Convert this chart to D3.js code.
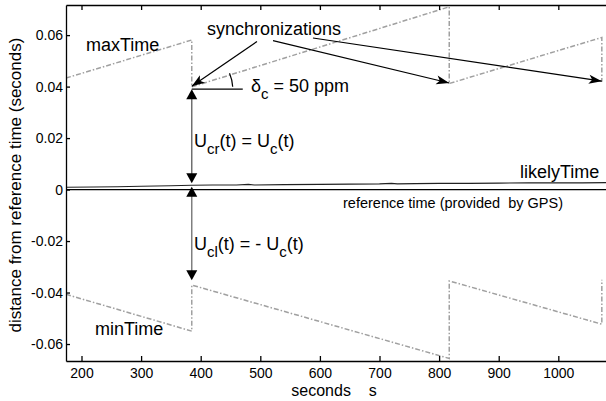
<!DOCTYPE html>
<html>
<head>
<meta charset="utf-8">
<script src="https://cdn.jsdelivr.net/npm/d3@7"></script>
<style>
body { margin: 0; background: #fff; }
text { font-family: Arial, "Liberation Sans", Helvetica, sans-serif; fill: #000; }
</style>
</head>
<body>
<div id="graph"></div>
<script>

// tick values
var xTicks = [200, 300, 400, 500, 600, 700, 800, 900, 1000];
var yTicks = [-0.06, -0.04, -0.02, 0, 0.02, 0.04, 0.06];

// synchronization instants (s)
var syncTimes = [385, 817, 1073];

// maxTime / minTime saw-tooth
var maxTimeT = [174, 385, 385, 817, 817, 1073, 1073];
var maxTimeV = [0.0433, 0.0581, 0.0399, 0.0710, 0.0412, 0.0591, 0.0419];
var minTimeT = [174, 385, 385, 817, 817, 1073, 1073];
var minTimeV = [-0.0407, -0.0550, -0.0371, -0.0656, -0.0355, -0.0523, -0.0350];

// likelyTime, slowly drifting above the reference
var likelyT = [174, 220, 260, 300, 350, 385, 420, 460, 480, 490, 540, 600, 650, 700, 720, 730, 760, 800, 850, 900, 950, 1000, 1040, 1080];
var likelyV = [0.0009, 0.0010, 0.0011, 0.0013, 0.0015, 0.0017, 0.0018, 0.0018, 0.0020, 0.0018, 0.0019, 0.0020, 0.0021, 0.0022, 0.0024, 0.0022, 0.0023, 0.0024, 0.0024, 0.0025, 0.0026, 0.0026, 0.0026, 0.0027];

// reference time (GPS)
var refT = [174, 1080];
var refV = [0, 0];

// annotation arrows (values on the y axis)
var ucrTop = 0.0390, ucrBottom = 0.0025;
var uclTop = 0.0011, uclBottom = -0.0352;

function drawGraph(){

    var W = 606, H = 401;
    var left = 66, right = 606, top = 5, bottom = 361;

    var xScale = d3.scaleLinear()
        .domain([174, 1080])
        .range([left, right]);

    var yScale = d3.scaleLinear()
        .domain([-0.0666, 0.0717])
        .range([bottom, top]);

    var svg = d3.select("#graph").append("svg")
        .attr("width", W)
        .attr("height", H);

    svg.append("clipPath").attr("id", "plot")
        .append("rect")
        .attr("x", left).attr("y", top)
        .attr("width", right - left).attr("height", bottom - top);

    var plot = svg.append("g").attr("clip-path", "url(#plot)");

    function zip(ts, vs){
        return ts.map(function(t, i){ return {t: t, v: vs[i]}; });
    }

    var line = d3.line()
        .x(function(d){ return xScale(d.t); })
        .y(function(d){ return yScale(d.v); })
        .curve(d3.curveLinear);

    // reference time
    plot.append("path")
        .datum(zip(refT, refV))
        .attr("d", line)
        .attr("fill", "none")
        .attr("stroke", "#000")
        .attr("stroke-width", 1.3);

    // likelyTime
    plot.append("path")
        .datum(zip(likelyT, likelyV))
        .attr("d", line)
        .attr("fill", "none")
        .attr("stroke", "#222")
        .attr("stroke-width", 1.1);

    // max / min time
    [zip(maxTimeT, maxTimeV), zip(minTimeT, minTimeV)].forEach(function(data){
        plot.append("path")
            .datum(data)
            .attr("d", line)
            .attr("fill", "none")
            .attr("stroke", "#a0a0a0")
            .attr("stroke-width", 1.5)
            .attr("stroke-dasharray", "5,2,1.5,2");
    });

    // axes
    var axisFont = function(g){
        g.selectAll("text")
            .attr("font-family", "Arial, 'Liberation Sans', sans-serif")
            .attr("font-size", 14)
            .attr("fill", "#000");
        g.selectAll("line, path").attr("stroke", "#000").attr("stroke-width", 1.3);
    };

    svg.append("g")
        .attr("transform", "translate(0," + bottom + ")")
        .call(d3.axisBottom(xScale).tickValues(xTicks).tickSize(-5).tickSizeOuter(0).tickPadding(7)
            .tickFormat(d3.format("d")))
        .call(axisFont);

    svg.append("g")
        .attr("transform", "translate(0," + top + ")")
        .call(d3.axisTop(xScale).tickValues(xTicks).tickSize(-5).tickSizeOuter(0).tickFormat(""))
        .call(axisFont);

    svg.append("g")
        .attr("transform", "translate(" + left + ",0)")
        .call(d3.axisLeft(yScale).tickValues(yTicks).tickSize(-4).tickSizeOuter(0).tickPadding(3)
            .tickFormat(function(d){ return d === 0 ? "0" : d3.format(".2f")(d).replace("\u2212", "-"); }))
        .call(axisFont);

    // axis titles
    svg.append("text")
        .attr("x", 334).attr("y", 396)
        .attr("text-anchor", "middle")
        .attr("font-size", 16)
        .style("white-space", "pre")
        .text("seconds    s");

    svg.append("text")
        .attr("transform", "translate(21,185) rotate(-90)")
        .attr("text-anchor", "middle")
        .attr("font-size", 17)
        .text("distance from reference time (seconds)");

    // arrow heads
    function head(tipX, tipY, fromX, fromY, len, half, notch){
        var a = Math.atan2(tipY - fromY, tipX - fromX);
        var pts = [[0, 0], [-len, -half], [-len * notch, 0], [-len, half]];
        var p = pts.map(function(q){
            return [tipX + q[0] * Math.cos(a) - q[1] * Math.sin(a),
                    tipY + q[0] * Math.sin(a) + q[1] * Math.cos(a)];
        });
        svg.append("path")
            .attr("d", "M" + p.join("L") + "Z")
            .attr("fill", "#000");
    }

    function arrow(x1, y1, x2, y2, color, len, half, notch){
        svg.append("line")
            .attr("x1", x1).attr("y1", y1)
            .attr("x2", x2).attr("y2", y2)
            .attr("stroke", color).attr("stroke-width", 1.2);
        head(x2, y2, x1, y1, len, half, notch);
    }

    // synchronization arrows
    var syncStarts = [[257, 41.5], [273, 40.7], [313, 38]];
    var maxAfter = [maxTimeV[2], maxTimeV[4], maxTimeV[6]];
    syncTimes.forEach(function(t, i){
        arrow(syncStarts[i][0], syncStarts[i][1], xScale(t), yScale(maxAfter[i]) - 0.5, "#000", 13, 4.5, 0.75);
    });

    svg.append("text")
        .attr("x", 207).attr("y", 35)
        .attr("font-size", 18)
        .text("synchronizations");

    // U arrows at first sync
    var sx = xScale(syncTimes[0]);
    svg.append("line")
        .attr("x1", sx).attr("x2", sx)
        .attr("y1", yScale(ucrTop) + 8).attr("y2", yScale(ucrBottom) - 8)
        .attr("stroke", "#666").attr("stroke-width", 1.4);
    head(sx, yScale(ucrTop), sx, yScale(ucrTop) + 10, 10, 5.5, 1);
    head(sx, yScale(ucrBottom), sx, yScale(ucrBottom) - 10, 10, 5.5, 1);

    svg.append("line")
        .attr("x1", sx).attr("x2", sx)
        .attr("y1", yScale(uclTop) + 8).attr("y2", yScale(uclBottom) - 8)
        .attr("stroke", "#777").attr("stroke-width", 1.4);
    head(sx, yScale(uclTop), sx, yScale(uclTop) + 10, 10, 5.5, 1);
    head(sx, yScale(uclBottom), sx, yScale(uclBottom) - 10, 10, 5.5, 1);

    // slope angle
    var ay = yScale(ucrTop);
    svg.append("line")
        .attr("x1", sx).attr("x2", sx + 51)
        .attr("y1", ay).attr("y2", ay)
        .attr("stroke", "#000").attr("stroke-width", 1.2);
    var arc = d3.arc().innerRadius(41).outerRadius(41)
        .startAngle(Math.PI / 2 - 0.06).endAngle(Math.PI / 2 - 0.40);
    svg.append("path")
        .attr("transform", "translate(" + sx + "," + ay + ")")
        .attr("d", arc())
        .attr("fill", "none")
        .attr("stroke", "#000").attr("stroke-width", 1.2);

    var dc = svg.append("text").attr("x", 251).attr("y", 92).attr("font-size", 18);
    dc.append("tspan").text("\u03b4");
    dc.append("tspan").attr("dy", 7).attr("font-size", 15).text("c");
    dc.append("tspan").attr("dy", -7).text(" = 50 ppm");

    var ucr = svg.append("text").attr("x", 194).attr("y", 147).attr("font-size", 18);
    ucr.append("tspan").text("U");
    ucr.append("tspan").attr("dy", 7).attr("font-size", 15).text("cr");
    ucr.append("tspan").attr("dy", -7).text("(t) = U");
    ucr.append("tspan").attr("dy", 7).attr("font-size", 15).text("c");
    ucr.append("tspan").attr("dy", -7).text("(t)");

    var ucl = svg.append("text").attr("x", 194).attr("y", 250).attr("font-size", 18);
    ucl.append("tspan").text("U");
    ucl.append("tspan").attr("dy", 7).attr("font-size", 15).text("cl");
    ucl.append("tspan").attr("dy", -7).text("(t) = - U");
    ucl.append("tspan").attr("dy", 7).attr("font-size", 15).text("c");
    ucl.append("tspan").attr("dy", -7).text("(t)");

    // series labels
    svg.append("text").attr("x", 86).attr("y", 51).attr("font-size", 18).text("maxTime");
    svg.append("text").attr("x", 95).attr("y", 335).attr("font-size", 18).text("minTime");
    svg.append("text").attr("x", 520).attr("y", 178).attr("font-size", 18).text("likelyTime");
    svg.append("text").attr("x", 343).attr("y", 208).attr("font-size", 14.5)
        .style("white-space", "pre")
        .text("reference time (provided  by GPS)");
}

drawGraph();
</script>
</body>
</html>
